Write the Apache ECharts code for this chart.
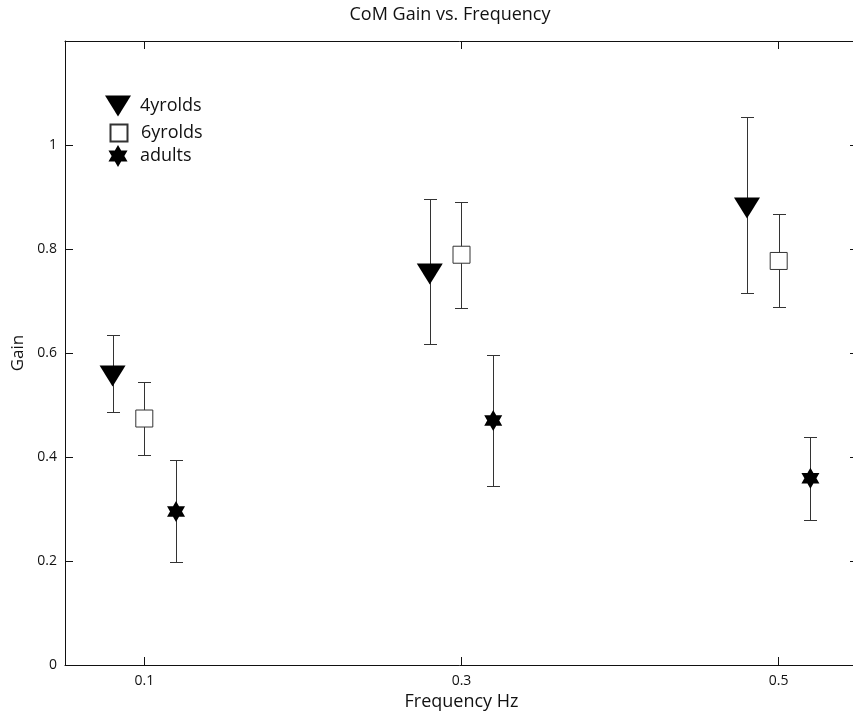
<!DOCTYPE html>
<html><head><meta charset="utf-8">
<script src="https://cdn.jsdelivr.net/npm/echarts@6/dist/echarts.min.js"></script>
<style>html,body{margin:0;padding:0;background:#fff}#chart{width:853px;height:719px}</style>
</head><body><div id="chart"></div>
<script>
// ---- data ----
const chartTitle = 'CoM Gain vs. Frequency';
const xName = 'Frequency Hz';
const yName = 'Gain';
const xTicks = [0.1, 0.3, 0.5];
const yTicks = [0, 0.2, 0.4, 0.6, 0.8, 1];
const seriesNames = ['4yrolds', '6yrolds', 'adults'];

const freq4 = [0.08, 0.28, 0.48];
const gain4 = [0.556, 0.752, 0.879];
const low4  = [0.487, 0.617, 0.715];
const high4 = [0.635, 0.897, 1.054];

const freq6 = [0.10, 0.30, 0.50];
const gain6 = [0.474, 0.789, 0.777];
const low6  = [0.404, 0.687, 0.688];
const high6 = [0.544, 0.890, 0.867];

const freqA = [0.12, 0.32, 0.52];
const gainA = [0.295, 0.470, 0.359];
const lowA  = [0.199, 0.345, 0.278];
const highA = [0.394, 0.597, 0.438];

// ---- styling ----
const FONT = 'Open Sans';
const INK = '#111';
const TRI = 'path://M0,0L26,0L13,21Z';
const SQR = 'path://M0,0L1,0L1,1L0,1Z';
const STAR = 'path://M0,-10L2.887,-5L8.66,-5L5.774,0L8.66,5L2.887,5L0,10L-2.887,5L-8.66,5L-5.774,0L-8.66,-5L-2.887,-5Z';
// legend icons drawn inside a fixed 34x22 box (corner moveTo points fix the box)
const L_TRI = 'path://M0,0M34,22M4,0.5L30,0.5L17,21.5Z';
const L_SQR = 'path://M0,0M34,22M8.5,2.5L25.5,2.5L25.5,19.5L8.5,19.5Z';
const L_STAR = 'path://M0,0M34,22M17,0L20.175,5.5L26.53,5.5L23.351,11L26.53,16.5L20.175,16.5L17,22L13.825,16.5L7.47,16.5L10.649,11L7.47,5.5L13.825,5.5Z';

function pts(xs, ys) { return xs.map((x, i) => [x, ys[i]]); }
function bars(xs, lo, hi) { return xs.map((x, i) => [x, lo[i], hi[i]]); }

function errRender(params, api) {
  const x = api.value(0), lo = api.value(1), hi = api.value(2);
  const a = api.coord([x, hi]), b = api.coord([x, lo]);
  const cx = Math.round(a[0]) + 0.5;
  const y1 = Math.round(a[1]) + 0.5, y2 = Math.round(b[1]) + 0.5;
  const hw = 6.5;
  const st = { stroke: '#333', lineWidth: 1 };
  return { type: 'group', children: [
    { type: 'line', shape: { x1: cx, y1: y1, x2: cx, y2: y2 }, style: st },
    { type: 'line', shape: { x1: cx - hw, y1: y1, x2: cx + hw, y2: y1 }, style: st },
    { type: 'line', shape: { x1: cx - hw, y1: y2, x2: cx + hw, y2: y2 }, style: st }
  ]};
}

function errSeries(xs, lo, hi) {
  return { type: 'custom', renderItem: errRender, data: bars(xs, lo, hi),
    encode: { x: 0, y: [1, 2] }, z: 1, silent: true };
}

const axLine = { show: true, onZero: false, lineStyle: { color: INK, width: 1 } };
const tick = (vals) => ({ show: true, inside: true, length: 8, customValues: vals, lineStyle: { color: INK } });
const legendBase = (name, icon, top) => ({
  data: [{ name: name, icon: icon }], left: 101, top: top, padding: 0,
  itemWidth: 34, itemHeight: 22, symbolKeepAspect: false, selectedMode: false,
  textStyle: { fontFamily: FONT, fontSize: 18, color: INK }
});

const chart = echarts.init(document.getElementById('chart'), null, { renderer: 'canvas' });
chart.setOption({
  animation: false,
  backgroundColor: '#fff',
  title: { text: chartTitle, left: 450, top: 6, padding: 0, textAlign: 'center',
    textStyle: { fontFamily: FONT, fontSize: 18, fontWeight: 'normal', color: INK } },
  grid: { left: 65, right: -5, top: 41, bottom: 54, containLabel: false, outerBoundsMode: 'none' },
  legend: [
    legendBase(seriesNames[0], L_TRI, 95),
    legendBase(seriesNames[1], L_SQR, 121),
    legendBase(seriesNames[2], L_STAR, 145)
  ],
  xAxis: [
    { type: 'value', min: 0.05, max: 0.55, position: 'bottom',
      name: xName, nameLocation: 'middle', nameGap: 28,
      nameTextStyle: { fontFamily: FONT, fontSize: 18, color: INK },
      axisLine: axLine, splitLine: { show: false }, axisTick: tick(xTicks),
      axisLabel: { customValues: xTicks, margin: 9, fontFamily: FONT, fontSize: 14, color: INK } },
    { type: 'value', min: 0.05, max: 0.55, position: 'top',
      axisLine: axLine, splitLine: { show: false }, axisTick: tick(xTicks),
      axisLabel: { show: false } }
  ],
  yAxis: [
    { type: 'value', min: 0, max: 1.2, position: 'left',
      name: yName, nameLocation: 'middle', nameGap: 38,
      nameTextStyle: { fontFamily: FONT, fontSize: 17, color: INK },
      axisLine: axLine, splitLine: { show: false }, axisTick: tick(yTicks),
      axisLabel: { customValues: yTicks, margin: 8, fontFamily: FONT, fontSize: 14, color: INK } },
    { type: 'value', min: 0, max: 1.2, position: 'right',
      axisLine: axLine, splitLine: { show: false }, axisTick: tick(yTicks),
      axisLabel: { show: false } }
  ],
  series: [
    errSeries(freq4, low4, high4),
    errSeries(freq6, low6, high6),
    errSeries(freqA, lowA, highA),
    { name: seriesNames[0], type: 'scatter', data: pts(freq4, gain4), z: 3,
      symbol: TRI, symbolSize: [26, 21], itemStyle: { color: '#000', opacity: 1 } },
    { name: seriesNames[1], type: 'scatter', data: pts(freq6, gain6), z: 3,
      symbol: SQR, symbolSize: [17, 17],
      itemStyle: { color: '#fff', borderColor: '#333', borderWidth: 1, opacity: 1 } },
    { name: seriesNames[2], type: 'scatter', data: pts(freqA, gainA), z: 3,
      symbol: STAR, symbolSize: [18, 21], itemStyle: { color: '#000', opacity: 1 } }
  ]
});
</script></body></html>
